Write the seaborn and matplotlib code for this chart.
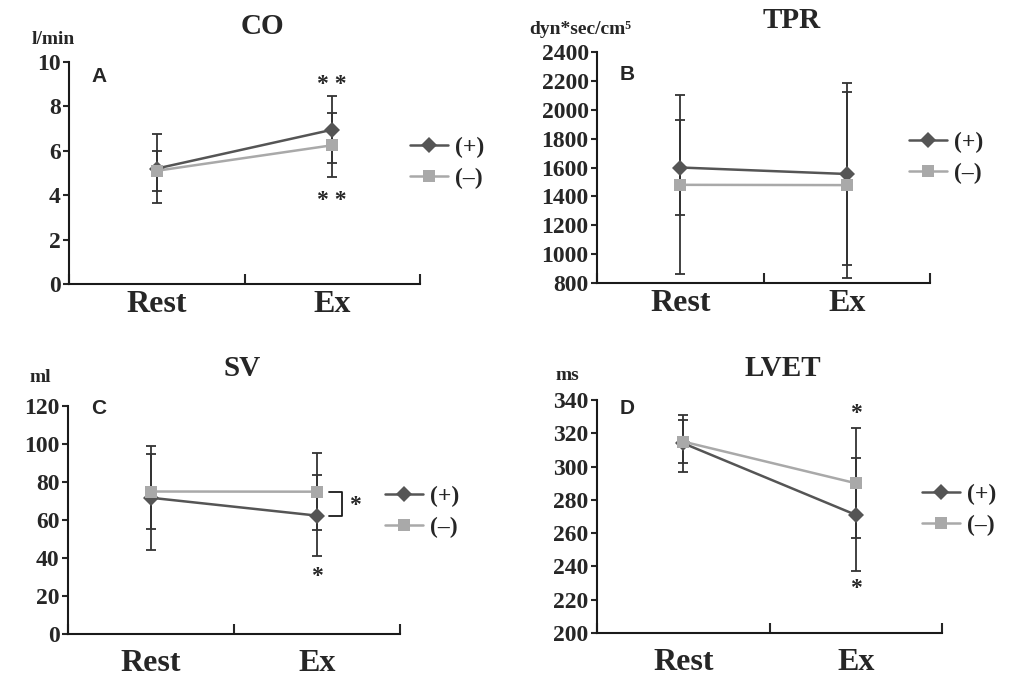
import numpy as np
import pandas as pd
import matplotlib
matplotlib.use('Agg')
import matplotlib.pyplot as plt
import seaborn as sns

# 数据 (从图中读取的均值和标准差)
phases = ['Rest', 'Ex']
groups = ['(+)', '(–)']

co_plus = [5.2, 6.95]
co_plus_sd = [1.55, 1.5]
co_minus = [5.1, 6.25]
co_minus_sd = [0.9, 1.45]

tpr_plus = [1600, 1555]
tpr_plus_sd = [330, 630]
tpr_minus = [1480, 1478]
tpr_minus_sd = [620, 645]

sv_plus = [71.7, 62.3]
sv_plus_sd = [27.4, 21.5]
sv_minus = [75, 74.9]
sv_minus_sd = [19.9, 20.3]

lvet_plus = [314, 271]
lvet_plus_sd = [17, 34]
lvet_minus = [315, 290]
lvet_minus_sd = [13, 33]

sns.set_style('ticks')
plt.rcParams['font.family'] = ['Liberation Serif', 'DejaVu Serif']
plt.rcParams['font.weight'] = 'bold'
plt.rcParams['axes.linewidth'] = 1.5

W, H = 1013, 680
fig = plt.figure(figsize=(W / 100, H / 100), dpi=100)

palette = {groups[0]: '#555555', groups[1]: '#a9a9a9'}
markers = {groups[0]: 'D', groups[1]: 's'}


def fx(px):
    return px / W


def fy(py):
    return 1 - py / H


def panel(l, t, r, b, plus, plus_sd, minus, minus_sd, ymin, ymax, ystep, label_pad):
    ax = fig.add_axes([l / W, 1 - b / H, (r - l) / W, (b - t) / H])
    df = pd.DataFrame({
        'x': [0, 1, 0, 1],
        'value': plus + minus,
        'group': [groups[0]] * 2 + [groups[1]] * 2,
    })
    sns.lineplot(data=df, x='x', y='value', hue='group', style='group',
                 palette=palette, markers=markers, dashes=False,
                 linewidth=1.8, markersize=8, markeredgewidth=0,
                 errorbar=None, legend=False, ax=ax, zorder=3)
    handles = list(ax.lines)
    ax.lines[1].set_markersize(9)
    ax.errorbar([0, 1], plus, yerr=plus_sd, fmt='none', ecolor='#333333',
                elinewidth=1.3, capsize=3.8, capthick=1.3, zorder=1)
    ax.errorbar([0, 1], minus, yerr=minus_sd, fmt='none', ecolor='#333333',
                elinewidth=1.3, capsize=3.8, capthick=1.3, zorder=1)

    ax.set_xlim(-0.5, 1.5)
    ax.set_ylim(ymin, ymax)
    ax.set_yticks(np.arange(ymin, ymax + ystep / 2, ystep))
    ax.set_xticks([0, 1])
    ax.set_xticklabels(phases, fontsize=23)
    ax.set_xticks([-0.5, 0.5, 1.5], minor=True)
    ax.tick_params(axis='x', which='major', length=0, pad=label_pad)
    ax.tick_params(axis='x', which='minor', direction='in', length=7, width=1.5)
    ax.tick_params(axis='y', direction='out', length=4, width=1.5, labelsize=17, pad=2)
    ax.set_xlabel('')
    ax.set_ylabel('')
    sns.despine(ax=ax)
    for s in ['left', 'bottom']:
        ax.spines[s].set_color('#1a1a1a')
    return ax, handles


def legend(ax, handles, left_px, mid_py):
    ax.legend(handles, groups, loc='center left',
              bbox_to_anchor=(fx(left_px), fy(mid_py)), bbox_transform=fig.transFigure,
              frameon=False, borderpad=0, borderaxespad=0, handlelength=1.6,
              handletextpad=0.3, labelspacing=0.4,
              prop={'size': 17, 'weight': 'bold', 'family': 'Liberation Serif'})


axA, hA = panel(69, 62, 420, 284, co_plus, co_plus_sd, co_minus, co_minus_sd, 0, 10, 2, 4)
axB, hB = panel(597, 52, 930, 283, tpr_plus, tpr_plus_sd, tpr_minus, tpr_minus_sd, 800, 2400, 200, 4)
axC, hC = panel(68, 406, 400, 634, sv_plus, sv_plus_sd, sv_minus, sv_minus_sd, 0, 120, 20, 11)
axD, hD = panel(597, 400, 942, 633, lvet_plus, lvet_plus_sd, lvet_minus, lvet_minus_sd, 200, 340, 20, 11)

legend(axA, hA, 410, 163)
legend(axB, hB, 909, 158)
legend(axC, hC, 385, 512)
legend(axD, hD, 922, 510)

# 标题、单位和面板字母
titles = [('CO', 262, 26), ('TPR', 792, 20), ('SV', 242, 368), ('LVET', 783, 368)]
for txt, x, y in titles:
    fig.text(fx(x), fy(y), txt, ha='center', va='center', fontsize=21)

units = [('l/min', 53, 40), ('dyn*sec/cm⁵', 580, 30), ('ml', 40, 377), ('ms', 567, 375)]
for txt, x, y in units:
    fig.text(fx(x), fy(y), txt, ha='center', va='center', fontsize=14)

letters = [('A', 99, 76), ('B', 627, 75), ('C', 99, 409), ('D', 627, 408)]
for txt, x, y in letters:
    fig.text(fx(x), fy(y), txt, ha='center', va='center', fontsize=15,
             family='Liberation Sans', weight='bold')

# 显著性标记
star = dict(ha='center', va='center', fontsize=17)
axA.text(1, 9.0, '* *', **star)
axA.text(1, 3.75, '* *', **star)
axD.text(1, 332, '*', **star)
axD.text(1, 227, '*', **star)
axC.text(1, 30, '*', **star)
axC.plot([1.07, 1.15, 1.15, 1.07], [74.9, 74.9, 62.3, 62.3], color='#1a1a1a',
         lw=1.3, clip_on=False)
axC.text(1.23, 67.5, '*', **star)

fig.savefig('out.png', dpi=100)
